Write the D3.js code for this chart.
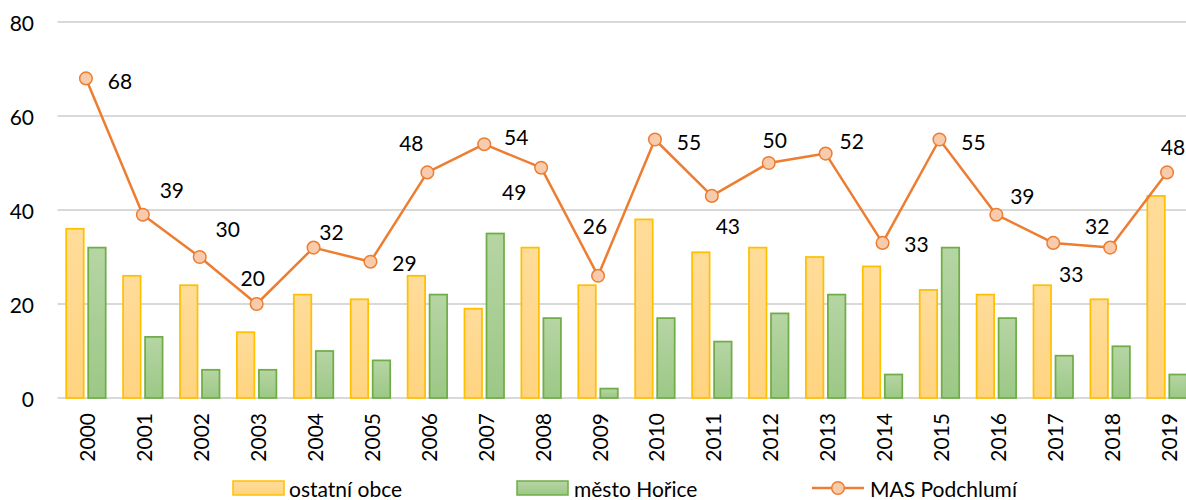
<!DOCTYPE html>
<html>
<head>
<meta charset="utf-8">
<script src="https://cdn.jsdelivr.net/npm/d3@7"></script>
<style>
  html, body { margin: 0; padding: 0; background: #fff; }
  svg { display: block; font-family: Lato, "Open Sans", sans-serif; }
</style>
</head>
<body>
<svg id="chart" width="1186" height="500"></svg>
<script>
// Years on the category axis
const years = ["2000","2001","2002","2003","2004","2005","2006","2007","2008","2009",
               "2010","2011","2012","2013","2014","2015","2016","2017","2018","2019"];
// Other municipalities
const ostatniObce = [36,26,24,14,22,21,26,19,32,24,38,31,32,30,28,23,22,24,21,43];
// Town of Hořice
const mestoHorice = [32,13,6,6,10,8,22,35,17,2,17,12,18,22,5,32,17,9,11,5];
// Whole MAS Podchlumí area
const masPodchlumi = [68,39,30,20,32,29,48,54,49,26,55,43,50,52,33,55,39,33,32,48];
// Value-axis ticks
const yTicks = [0,20,40,60,80];

// Placement of each line label relative to its marker (px)
const labelOffsets = [
  [34,2],[29,-25],[28,-29],[-4,-27],[18,-16],[34,1],[-16,-30],[32,-8],[-27,24],[-3,-50],
  [34,2],[16,30],[6,-24],[26,-13],[34,1],[34,2],[26,-19],[18,31],[-13,-22],[6,-26]
];

const svg = d3.select("#chart");
const W = 1186;
const plotLeft = 57.5, plotRight = 1195.5, plotTop = 22, plotBottom = 398;

const x = d3.scaleBand().domain(years).range([plotLeft, plotRight]).padding(0);
const y = d3.scaleLinear().domain([0, 80]).range([plotBottom, plotTop]);
const step = x.bandwidth();
const barW = 17.5;
const barGap = 4.5;

// Gradients for the bar fills
const defs = svg.append("defs");
function grad(id, top, bottom) {
  const g = defs.append("linearGradient").attr("id", id)
    .attr("x1", 0).attr("y1", 0).attr("x2", 0).attr("y2", 1);
  g.append("stop").attr("offset", "0%").attr("stop-color", top);
  g.append("stop").attr("offset", "100%").attr("stop-color", bottom);
}
grad("gYellow", "#ffdc9a", "#ffd480");
grad("gGreen", "#b6d5a4", "#9cc886");

// Horizontal gridlines
svg.append("g").selectAll("line").data(yTicks).join("line")
  .attr("x1", plotLeft).attr("x2", W)
  .attr("y1", d => y(d)).attr("y2", d => y(d))
  .attr("stroke", "#d9d9d9").attr("stroke-width", 2);

// Value axis labels
svg.append("g").selectAll("text").data(yTicks).join("text")
  .attr("x", 34).attr("y", d => y(d))
  .attr("text-anchor", "end").attr("dominant-baseline", "central")
  .attr("font-size", 21).attr("fill", "#000")
  .text(d => d);

// Category axis labels (rotated)
svg.append("g").selectAll("text").data(years).join("text")
  .attr("transform", d => `translate(${x(d) + step / 2 + 1},413) rotate(-90)`)
  .attr("text-anchor", "end").attr("dominant-baseline", "central")
  .attr("font-size", 21).attr("fill", "#000")
  .text(d => d);

// Bars: ostatní obce
svg.append("g").selectAll("rect").data(years).join("rect")
  .attr("x", d => x(d) + step / 2 - barGap / 2 - barW)
  .attr("y", (d, i) => y(ostatniObce[i]))
  .attr("width", barW)
  .attr("height", (d, i) => y(0) - y(ostatniObce[i]))
  .attr("fill", "url(#gYellow)").attr("stroke", "#ffc000").attr("stroke-width", 1.75);

// Bars: město Hořice
svg.append("g").selectAll("rect").data(years).join("rect")
  .attr("x", d => x(d) + step / 2 + barGap / 2)
  .attr("y", (d, i) => y(mestoHorice[i]))
  .attr("width", barW)
  .attr("height", (d, i) => y(0) - y(mestoHorice[i]))
  .attr("fill", "url(#gGreen)").attr("stroke", "#70ad47").attr("stroke-width", 1.75);

// Line: MAS Podchlumí
const cx = (d, i) => x(years[i]) + step / 2;
const line = d3.line().x((d, i) => cx(d, i)).y(d => y(d));
svg.append("path").datum(masPodchlumi)
  .attr("d", line).attr("fill", "none")
  .attr("stroke", "#ed7d31").attr("stroke-width", 2.5).attr("stroke-linejoin", "round");

svg.append("g").selectAll("circle").data(masPodchlumi).join("circle")
  .attr("cx", cx).attr("cy", d => y(d)).attr("r", 6.3)
  .attr("fill", "#f8cbad").attr("stroke", "#ed7d31").attr("stroke-width", 1.5);

// Value labels for the line
svg.append("g").selectAll("text").data(masPodchlumi).join("text")
  .attr("x", (d, i) => cx(d, i) + labelOffsets[i][0])
  .attr("y", (d, i) => y(d) + labelOffsets[i][1])
  .attr("text-anchor", "middle").attr("dominant-baseline", "central")
  .attr("font-size", 21).attr("fill", "#000")
  .text(d => d);

// Legend
const legY = 488;
const leg = svg.append("g");
leg.append("rect").attr("x", 233).attr("y", legY - 7).attr("width", 51).attr("height", 14)
  .attr("fill", "url(#gYellow)").attr("stroke", "#ffc000").attr("stroke-width", 1.5);
leg.append("text").attr("x", 289).attr("y", legY).attr("dominant-baseline", "central")
  .attr("font-size", 21).attr("fill", "#000").text("ostatní obce");
leg.append("rect").attr("x", 517).attr("y", legY - 7).attr("width", 51).attr("height", 14)
  .attr("fill", "url(#gGreen)").attr("stroke", "#70ad47").attr("stroke-width", 1.5);
leg.append("text").attr("x", 574).attr("y", legY).attr("dominant-baseline", "central")
  .attr("font-size", 21).attr("fill", "#000").text("město Hořice");
leg.append("line").attr("x1", 812).attr("x2", 864).attr("y1", legY).attr("y2", legY)
  .attr("stroke", "#ed7d31").attr("stroke-width", 2.5);
leg.append("circle").attr("cx", 838).attr("cy", legY).attr("r", 6.3)
  .attr("fill", "#f8cbad").attr("stroke", "#ed7d31").attr("stroke-width", 1.5);
leg.append("text").attr("x", 870).attr("y", legY).attr("dominant-baseline", "central")
  .attr("font-size", 21).attr("fill", "#000").text("MAS Podchlumí");
</script>
</body>
</html>
